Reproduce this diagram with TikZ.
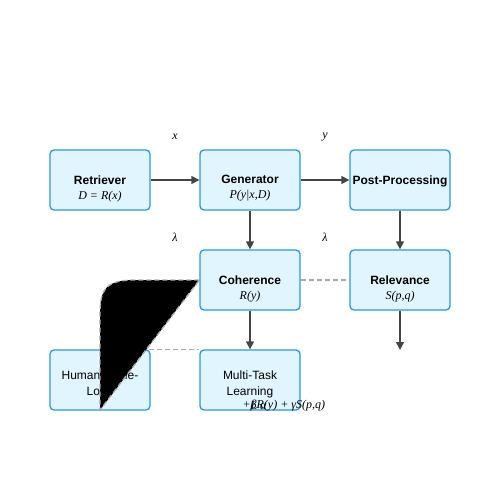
\documentclass[tikz,border=0pt]{standalone}
\usepackage{fontspec}
\setmainfont{Liberation Sans}
\newfontfamily\serifit{Liberation Serif}
\usetikzlibrary{arrows.meta}
\definecolor{boxfill}{HTML}{E1F5FE}
\definecolor{boxline}{HTML}{2899D8}
\definecolor{arr}{HTML}{444444}
\definecolor{dash}{HTML}{AAAAAA}
\tikzset{
  blk/.style={draw=boxline, fill=boxfill, line width=1.3pt, rounded corners=4pt,
    minimum width=100pt, minimum height=60pt, inner sep=0pt},
  txt/.style={inner sep=0pt, align=center, font=\fontsize{12}{15}\selectfont},
  txtb/.style={inner sep=0pt, align=center, font=\fontsize{12}{16}\selectfont},
  flow/.style={draw=arr, line width=1.3pt, -{Triangle[length=8pt,width=8pt]}},
  link/.style={draw=dash, line width=1.3pt, dash pattern=on 5pt off 3pt},
  lbl/.style={font=\serifit\itshape\fontsize{12}{14}\selectfont, inner sep=0pt},
  fml/.style={font=\serifit\itshape\fontsize{12}{14}\selectfont}
}
\begin{document}
\begin{tikzpicture}[x=1pt,y=-1pt]
\useasboundingbox[fill=white] (0,0) rectangle (500,500);
\node[blk] (ret) at (100,180) {};
\node[blk] (gen) at (250,180) {};
\node[blk] (post) at (400,180) {};
\node[blk] (coh) at (250,280) {};
\node[blk] (rel) at (400,280) {};
\node[blk] (hum) at (100,380) {};
\node[blk] (mtl) at (250,380) {};
\node[txt, yshift=-8.5pt] (retT) at (ret) {\textbf{Retriever}\\{\serifit\itshape D = R(x)}};
\node[txt, yshift=-8.5pt] (genT) at (gen) {\textbf{Generator}\\{\serifit\itshape P(y|x,D)}};
\node[txt, yshift=-1pt] (postT) at (post) {\textbf{Post-Processing}};
\node[txt, yshift=-8.5pt] (cohT) at (coh) {\textbf{Coherence}\\{\serifit\itshape R(y)}};
\node[txt, yshift=-8.5pt] (relT) at (rel) {\textbf{Relevance}\\{\serifit\itshape S(p,q)}};
\node[txtb, yshift=-4pt] (humT) at (hum) {Human-in-the-\\Loop};
\node[txtb, yshift=-4pt] (mtlT) at (mtl) {Multi-Task\\Learning};
\coordinate (relout) at (400,350);
\coordinate (c1) at (100,410);

\draw[flow] (ret.east) -- (gen.west);
\draw[flow] (gen.east) -- (post.west);
\draw[flow] (gen.south) -- (coh.north);
\draw[flow] (post.south) -- (rel.north);
\draw[flow] (coh.south) -- (mtl.north);
\draw[flow] (rel.south) -- (relout);
\draw[link] (coh.east) -- (rel.west);
\draw[link] (hum.north east) ++(-2,0) -- (mtl.north west);
\draw[link, fill=black] (coh.west) -- (135,280) .. controls (105,280) and (100,290) .. (100,315) -- (c1) -- cycle;

\node[lbl] (lx) at (175,137) {x};
\node[lbl] (ly) at (325,137) {y};
\node[lbl] (l1) at (175,237) {λ};
\node[lbl] (l2) at (325,237) {λ};
\node[fml, anchor=west] (f1) at (239,406) {+βR(y) + γS(p,q)};
\node[fml, anchor=west] (f2) at (247,406) {Ł α};
\end{tikzpicture}
\end{document}
